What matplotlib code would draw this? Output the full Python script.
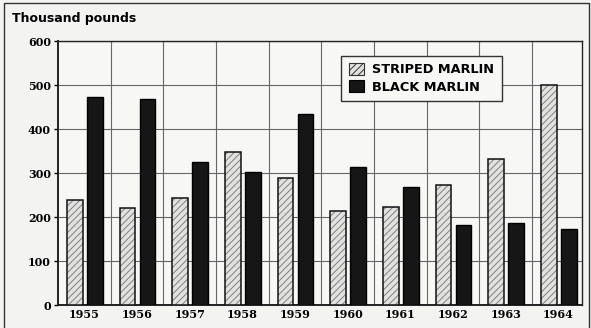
import numpy as np
import matplotlib.pyplot as plt

# Marlin landings, thousand pounds
years = ["1955", "1956", "1957", "1958", "1959", "1960", "1961", "1962", "1963", "1964"]
striped = [239, 220, 243, 348, 289, 214, 223, 273, 332, 500]
black = [473, 468, 325, 302, 434, 314, 268, 182, 186, 173]
yticks = [0, 100, 200, 300, 400, 500, 600]

x = np.arange(len(years))
w = 0.30

plt.rcParams["hatch.linewidth"] = 0.7

fig = plt.figure(figsize=(5.91, 3.28), dpi=100)
fig.patch.set_facecolor("#f3f3f1")
ax = fig.add_axes([0.098, 0.070, 0.887, 0.805])
ax.set_facecolor("#f7f7f5")

# striped bars: gray hatch layer, then a black outline on top
ax.bar(x - 0.18, striped, w, color="#e2e2e0", edgecolor="#808080",
       hatch="/////", linewidth=0, zorder=3)
ax.bar(x - 0.18, striped, w, fill=False, edgecolor="#111111",
       linewidth=1.1, zorder=4)
ax.bar(x + 0.20, black, w, color="#161616", edgecolor="#000000",
       linewidth=1.0, zorder=3)

ax.set_xlim(-0.5, 9.45)
ax.set_ylim(0, 600)
ax.set_yticks(yticks)
ax.set_yticklabels([str(v) for v in yticks], family="DejaVu Serif",
                   fontweight="bold", fontsize=8)
ax.set_xticks(x)
ax.set_xticklabels(years, family="DejaVu Serif", fontweight="bold", fontsize=8)
ax.tick_params(axis="x", length=0, pad=3)
ax.tick_params(axis="y", length=3, pad=2, width=1)

# grid: slot boundaries and every 100
for xb in np.arange(0.5, 9.5, 1.0):
    ax.axvline(xb, color="#666666", lw=0.8, zorder=1)
for yv in yticks[1:]:
    ax.axhline(yv, color="#666666", lw=0.8, zorder=1)

for s in ax.spines.values():
    s.set_linewidth(1.0)
    s.set_color("#222222")
ax.spines["bottom"].set_linewidth(1.4)
ax.spines["left"].set_linewidth(1.4)

h1 = plt.Rectangle((0, 0), 1, 1, facecolor="#e2e2e0", edgecolor="#333333",
                   hatch="/////", linewidth=0.8)
h2 = plt.Rectangle((0, 0), 1, 1, facecolor="#161616", edgecolor="#000000",
                   linewidth=0.8)
leg = ax.legend([h1, h2], ["STRIPED MARLIN", "BLACK MARLIN"],
                loc="upper left", bbox_to_anchor=(0.54, 0.945), frameon=True,
                fancybox=False, edgecolor="#333333", framealpha=1,
                prop={"weight": "bold", "size": 9.3}, handlelength=1.2,
                handleheight=1.0, borderpad=0.6, labelspacing=0.3,
                handletextpad=0.6, borderaxespad=0)
leg.get_frame().set_linewidth(1.0)
leg.get_frame().set_facecolor("#f7f7f5")

fig.text(0.02, 0.945, "Thousand pounds", fontsize=9, fontweight="bold",
         ha="left", va="center")

# outer border (open at the bottom)
fig.add_artist(plt.Line2D([0.006, 0.006, 0.996, 0.996], [0.0, 0.99, 0.99, 0.0],
                          transform=fig.transFigure, color="#333333", lw=1.0))

fig.savefig("out.png", dpi=100, facecolor=fig.get_facecolor())
